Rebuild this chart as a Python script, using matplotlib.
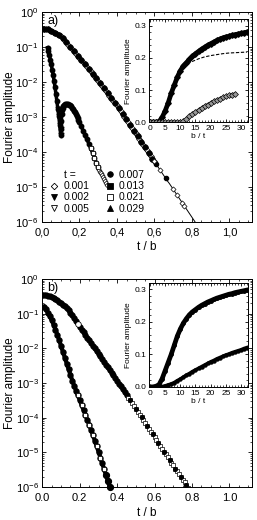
import numpy as np
import matplotlib
matplotlib.use('Agg')
import matplotlib.pyplot as plt
from matplotlib.lines import Line2D
from matplotlib.ticker import MultipleLocator, FixedLocator, FixedFormatter, LogLocator

# ---- panel a, main plot (t / b, log10 of Fourier amplitude) ----
a1_x = np.round(np.arange(0, 83) * 0.01, 3)
a1_log = [-0.48, -0.48, -0.49, -0.50, -0.52, -0.54, -0.56, -0.59, -0.62, -0.66,
          -0.70, -0.75, -0.80, -0.86, -0.93, -0.99, -1.06, -1.12, -1.19, -1.25,
          -1.31, -1.37, -1.43, -1.50, -1.56, -1.63, -1.70, -1.77, -1.84, -1.90,
          -1.97, -2.04, -2.11, -2.18, -2.25, -2.32, -2.39, -2.46, -2.53, -2.60,
          -2.67, -2.75, -2.83, -2.91, -2.99, -3.07, -3.15, -3.23, -3.31, -3.39,
          -3.47, -3.55, -3.63, -3.71, -3.79, -3.87, -3.95, -4.03, -4.11, -4.19,
          -4.27, -4.35, -4.43, -4.51, -4.59, -4.67, -4.75, -4.83, -4.90, -4.98,
          -5.06, -5.14, -5.22, -5.30, -5.38, -5.46, -5.54, -5.62, -5.70, -5.78,
          -5.86, -5.94, -6.02]
# sparse symbols on the tail of the first curve
a1_tail_circ_x = [0.61, 0.66]
a1_tail_circ_log = [-4.35, -4.75]
a1_tail_open_x = [0.60, 0.63, 0.70, 0.72, 0.75, 0.76]
a1_tail_open_log = [-4.27, -4.51, -5.06, -5.22, -5.46, -5.54]

a2_x = [0.03, 0.035, 0.04, 0.045, 0.05, 0.055, 0.06, 0.065, 0.07, 0.075,
        0.08, 0.085, 0.09, 0.095, 0.10, 0.102, 0.104, 0.106, 0.108, 0.11,
        0.115, 0.12, 0.125, 0.13, 0.135, 0.14, 0.145, 0.15, 0.155, 0.16,
        0.165, 0.17, 0.175, 0.18, 0.185, 0.19, 0.195, 0.20, 0.21, 0.22,
        0.23, 0.24, 0.25, 0.26, 0.27, 0.28, 0.29, 0.30]
a2_log = [-1.02, -1.12, -1.24, -1.37, -1.50, -1.65, -1.80, -1.97, -2.15, -2.35,
          -2.55, -2.76, -2.98, -3.22, -3.50, -3.35, -3.10, -2.92, -2.80, -2.73,
          -2.68, -2.65, -2.63, -2.62, -2.62, -2.63, -2.65, -2.67, -2.70, -2.73,
          -2.77, -2.82, -2.87, -2.92, -2.97, -3.03, -3.09, -3.15, -3.27, -3.39,
          -3.51, -3.63, -3.76, -3.89, -4.02, -4.16, -4.30, -4.44]
a2_tail_x = [0.305, 0.31, 0.315, 0.32, 0.325, 0.33, 0.335, 0.34, 0.345]
a2_tail_log = [-4.50, -4.56, -4.61, -4.67, -4.72, -4.78, -4.84, -4.89, -4.95]

# ---- panel a, inset (b / t, Fourier amplitude) ----
ins_x = list(range(0, 33))
ins_a_upper = [0.0, 0.0, 0.0, 0.002, 0.015, 0.035, 0.06, 0.09, 0.115, 0.14,
               0.16, 0.175, 0.185, 0.195, 0.205, 0.213, 0.22, 0.227, 0.233, 0.239,
               0.244, 0.249, 0.254, 0.258, 0.262, 0.265, 0.267, 0.27, 0.272, 0.274,
               0.276, 0.278, 0.28]
ins_a_dash_x = [10, 11, 12, 13, 14, 15, 16, 17, 18, 19, 20, 22, 24, 26, 28, 30, 32]
ins_a_dash = [0.16, 0.17, 0.178, 0.184, 0.189, 0.193, 0.197, 0.2, 0.203, 0.205,
              0.207, 0.21, 0.213, 0.215, 0.216, 0.217, 0.218]
ins_a_lower_x = list(range(0, 29))
ins_a_lower = [0.0, 0.0, 0.0, 0.0, 0.0, 0.0, 0.0, 0.0, 0.0, 0.0,
               0.0, 0.003, 0.01, 0.018, 0.025, 0.032, 0.038, 0.044, 0.05, 0.055,
               0.06, 0.065, 0.069, 0.073, 0.077, 0.08, 0.083, 0.086, 0.088]

# ---- panel b, main plot ----
b1_x = np.round(np.arange(0, 79) * 0.01, 3)
b1_log = [-0.46, -0.46, -0.47, -0.48, -0.50, -0.52, -0.55, -0.58, -0.62, -0.66,
          -0.70, -0.74, -0.79, -0.84, -0.90, -0.97, -1.05, -1.13, -1.22, -1.30,
          -1.38, -1.46, -1.53, -1.61, -1.69, -1.77, -1.85, -1.92, -2.00, -2.08,
          -2.16, -2.23, -2.31, -2.39, -2.47, -2.55, -2.63, -2.70, -2.78, -2.86,
          -2.94, -3.02, -3.10, -3.18, -3.26, -3.34, -3.42, -3.50, -3.58, -3.66,
          -3.75, -3.83, -3.91, -3.99, -4.07, -4.16, -4.24, -4.32, -4.40, -4.48,
          -4.56, -4.65, -4.73, -4.81, -4.89, -4.98, -5.06, -5.14, -5.22, -5.30,
          -5.38, -5.47, -5.55, -5.63, -5.71, -5.79, -5.87, -5.95, -6.03]
b2_x = np.round(np.arange(1, 37) * 0.01, 3)
b2_log = [-0.80, -0.88, -0.98, -1.08, -1.19, -1.32, -1.46, -1.61, -1.77, -1.94,
          -2.11, -2.27, -2.44, -2.60, -2.77, -2.93, -3.08, -3.22, -3.36, -3.50,
          -3.64, -3.78, -3.92, -4.06, -4.20, -4.35, -4.50, -4.66, -4.82, -4.98,
          -5.15, -5.32, -5.49, -5.66, -5.83, -6.00]

# ---- panel b, inset ----
ins_b_upper = [0.0, 0.0, 0.002, 0.007, 0.025, 0.05, 0.075, 0.1, 0.128, 0.156,
               0.178, 0.196, 0.21, 0.222, 0.231, 0.238, 0.245, 0.251, 0.256, 0.261,
               0.265, 0.269, 0.273, 0.276, 0.279, 0.282, 0.285, 0.287, 0.29, 0.292,
               0.294, 0.296, 0.298]
ins_b_lower = [0.0, 0.0, 0.0, 0.0, 0.001, 0.003, 0.006, 0.009, 0.013, 0.019,
               0.024, 0.03, 0.036, 0.041, 0.047, 0.052, 0.057, 0.062, 0.067, 0.072,
               0.077, 0.081, 0.086, 0.09, 0.094, 0.098, 0.101, 0.105, 0.108, 0.111,
               0.114, 0.118, 0.121]

# legend
t_values = ['0.001', '0.002', '0.005', '0.007', '0.013', '0.021', '0.029']
t_markers = ['D', 'v', 'v', 'o', 's', 's', '^']
t_filled = [False, True, False, True, True, False, True]

xticks_main = [0.0, 0.2, 0.4, 0.6, 0.8, 1.0]
xticklabels_a = ['0,0', '0,2', '0,4', '0,6', '0,8', '1,0']
xticklabels_b = ['0.0', '0.2', '0.4', '0.6', '0.8', '1.0']

plt.rcParams['font.family'] = ['Liberation Sans', 'DejaVu Sans']
plt.rcParams['mathtext.default'] = 'regular'
plt.rcParams['font.size'] = 8
plt.rcParams['axes.linewidth'] = 0.7
for a in ['xtick', 'ytick']:
    plt.rcParams[a + '.direction'] = 'in'
    plt.rcParams[a + '.major.size'] = 3
    plt.rcParams[a + '.minor.size'] = 1.5
    plt.rcParams[a + '.major.width'] = 0.6
    plt.rcParams[a + '.minor.width'] = 0.5
plt.rcParams['xtick.top'] = True
plt.rcParams['ytick.right'] = True


def amp(v):
    return 10.0 ** np.asarray(v)


def SetupMain(ax, labels, tag):
    ax.set_yscale('log')
    ax.set_ylim(1e-6, 1)
    ax.set_xlim(0, 1.12)
    ax.yaxis.set_major_locator(LogLocator(base=10, numticks=10))
    ax.yaxis.set_minor_locator(LogLocator(base=10, subs=np.arange(2, 10), numticks=20))
    ax.xaxis.set_major_locator(FixedLocator(xticks_main))
    ax.xaxis.set_major_formatter(FixedFormatter(labels))
    ax.xaxis.set_minor_locator(MultipleLocator(0.05))
    ax.tick_params(which='both', top=True, right=True, labelsize=8)
    ax.tick_params(axis='x', pad=4)
    ax.tick_params(axis='y', pad=2.5)
    ax.set_xlabel('t / b', fontsize=8.5)
    ax.set_ylabel('Fourier amplitude', fontsize=8.5)
    ax.yaxis.set_label_coords(-0.125, 0.5)
    ax.xaxis.set_label_coords(0.5, -0.09)
    ax.text(0.025, 0.955, tag, transform=ax.transAxes, fontsize=9, ha='left', va='center')


def SetupInset(ax):
    ax.set_xlim(-0.3, 32.3)
    ax.set_ylim(0, 0.32)
    ax.xaxis.set_major_locator(MultipleLocator(5))
    ax.xaxis.set_minor_locator(MultipleLocator(1))
    ax.yaxis.set_major_locator(MultipleLocator(0.1))
    ax.yaxis.set_minor_locator(MultipleLocator(0.02))
    ax.yaxis.set_major_formatter(FixedFormatter(['0.0', '0.0', '0.1', '0.2', '0.3']))
    ax.tick_params(which='both', labelsize=6, top=True, right=True, pad=2)
    ax.tick_params(which='major', length=2.2)
    ax.tick_params(which='minor', length=1.1)
    ax.set_xlabel('b / t', fontsize=6, labelpad=1)
    ax.set_ylabel('Fourier amplitude', fontsize=6, labelpad=2)


fig = plt.figure(figsize=(2.57, 5.2), dpi=100)
ax_a = fig.add_axes([0.163, 0.573, 0.817, 0.404])
ax_b = fig.add_axes([0.165, 0.0635, 0.815, 0.4])

# panel a
a1_amp = amp(a1_log)
dense = a1_x <= 0.6
ax_a.plot(a1_x, a1_amp, '-', color='k', lw=0.7)
ax_a.plot(a1_x[dense], a1_amp[dense], '-', color='k', lw=3)
ax_a.plot(a1_x[dense], a1_amp[dense], 'D', ms=3, mfc='white', mec='k', mew=0.5)
ax_a.plot(a1_x[dense][1::2], a1_amp[dense][1::2], 'o', ms=3.5, color='k')
ax_a.plot(a1_tail_circ_x, amp(a1_tail_circ_log), 'o', ms=3, color='k')
ax_a.plot(a1_tail_open_x, amp(a1_tail_open_log), 'D', ms=2.6, mfc='white', mec='k', mew=0.5)

a2_amp = amp(a2_log)
ax_a.plot(a2_x, a2_amp, '-', color='k', lw=2.5)
ax_a.plot(a2_x, a2_amp, 'o', ms=3.2, color='k')
ax_a.plot(a2_x[11:16], a2_amp[11:16], 'v', ms=3.5, color='k')
ax_a.plot(a2_tail_x, amp(a2_tail_log), 'D', ms=2.5, mfc='white', mec='k', mew=0.5)
ax_a.plot(a2_x[-5:], a2_amp[-5:], 's', ms=2.5, mfc='white', mec='k', mew=0.5)
SetupMain(ax_a, xticklabels_a, 'a)')

handles = [Line2D([], [], ls='none', marker=None)]
labels = ['t =']
for val, mk, filled in zip(t_values, t_markers, t_filled):
    handles.append(Line2D([], [], ls='none', marker=mk, ms=4 if mk != 'D' else 3.3,
                          mfc='k' if filled else 'white', mec='k', mew=0.6))
    labels.append(val)
ax_a.legend(handles, labels, ncol=2, loc='lower left', bbox_to_anchor=(0.0, 0.005),
            frameon=False, fontsize=7.5, handlelength=1.0, handletextpad=0.4,
            columnspacing=1.4, labelspacing=0.12, borderpad=0.2)

ins_a = fig.add_axes([0.58, 0.765, 0.385, 0.198])
ins_a.plot(ins_x, ins_a_upper, '-', color='k', lw=3.4)
ins_a.plot(ins_x, ins_a_upper, 'D', ms=2.8, color='k')
ins_a.plot(ins_a_dash_x, ins_a_dash, '--', color='k', lw=0.8, dashes=(3, 1.5))
ins_a.plot(ins_a_lower_x, ins_a_lower, '-', color='#555555', lw=2.2)
ins_a.plot(ins_a_lower_x, ins_a_lower, 'D', ms=3, mfc='#999999', mec='k', mew=0.5)
SetupInset(ins_a)
ins_a.yaxis.set_label_coords(-0.17, 0.5)

# panel b
b1_amp = amp(b1_log)
top_b1 = b1_x <= 0.45
ax_b.plot(b1_x, b1_amp, '-', color='k', lw=0.7)
ax_b.plot(b1_x[top_b1], b1_amp[top_b1], '-', color='k', lw=3)
ax_b.plot(b1_x[top_b1], b1_amp[top_b1], 'o', ms=3.5, color='k')
ax_b.plot(b1_x[~top_b1], b1_amp[~top_b1], 's', ms=2.6, mfc='white', mec='k', mew=0.5)
ax_b.plot(b1_x[~top_b1][1::3], b1_amp[~top_b1][1::3], 'o', ms=2.6, color='k')
ax_b.plot([b1_x[19]], [b1_amp[19]], 'o', ms=2.4, mfc='white', mec='white')

b2_amp = amp(b2_log)
ax_b.plot(b2_x, b2_amp, '-', color='k', lw=3)
ax_b.plot(b2_x, b2_amp, 'o', ms=3.6, color='k')
ax_b.plot(b2_x[18::2], b2_amp[18::2], 's', ms=2.4, mfc='white', mec='k', mew=0.5)
ax_b.plot(b2_x[-3:], b2_amp[-3:], 'o', ms=4.2, color='k', clip_on=False)
SetupMain(ax_b, xticklabels_b, 'b)')
ax_b.xaxis.set_label_coords(0.5, -0.095)

ins_b = fig.add_axes([0.58, 0.256, 0.385, 0.2])
ins_b.plot(ins_x, ins_b_upper, '-', color='k', lw=3.4)
ins_b.plot(ins_x, ins_b_upper, 'o', ms=2.5, color='k')
ins_b.plot(ins_x, ins_b_lower, '-', color='k', lw=2.6)
ins_b.plot(ins_x, ins_b_lower, 'o', ms=2.2, color='k')
SetupInset(ins_b)
ins_b.yaxis.set_label_coords(-0.17, 0.5)

fig.savefig('out.png', dpi=100)
